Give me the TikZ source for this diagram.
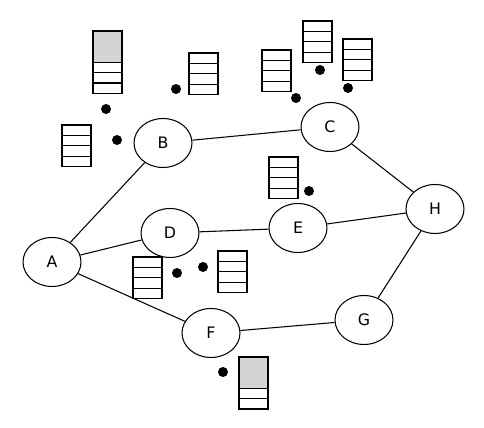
\documentclass[tikz,border=0pt]{standalone}
\usepackage{fontspec}
\setsansfont{DejaVu Sans}
\usepackage{xcolor}
\usepackage{tikz}
\usetikzlibrary{shapes.geometric}

% a stack of cells: x left, y top, plain cells, grey cells on top
\newcommand{\cellstack}[4]{%
  \ifnum#4>0
    \draw[fill=black!17] (#1,#2) rectangle ++(29,#4*10.4);
  \fi
  \foreach \k in {1,...,#3}
    \draw (#1,#2+#4*10.4+\k*10.4-10.4) rectangle ++(29,10.4);
}

\begin{document}
\begin{tikzpicture}[x=0.02cm,y=-0.02cm,line width=0.6pt,
    router/.style={draw,ellipse,minimum width=1.16cm,minimum height=0.98cm,
      inner sep=0pt,font=\sffamily\small},
    dot/.style={circle,fill,inner sep=0pt,minimum size=0.2cm}]
		\useasboundingbox (0,0) rectangle (484,428);
		
		% Routers
		\node[router] (A) at (52,262) {A};
		\node[router] (B) at (163,143) {B};
		\node[router] (C) at (330,127) {C};
		\node[router] (D) at (170,233) {D};
		\node[router] (E) at (298,228) {E};
		\node[router] (H) at (435,209) {H};
		\node[router] (G) at (364,320) {G};
		\node[router] (F) at (211,333) {F};
		
		% Links
		\draw (A) -- (B);
		\draw (A) -- (D);
		\draw (A) -- (F);
		\draw (B) -- (C);
		\draw (D) -- (E);
		\draw (E) -- (H);
		\draw (C) -- (H);
		\draw (F) -- (G);
		\draw (G) -- (H);
		
		% Packets
		\node[dot] (p1) at (176,89) {};
		\node[dot] (p2) at (106,109) {};
		\node[dot] (p3) at (117,140) {};
		\node[dot] (p4) at (320,70) {};
		\node[dot] (p5) at (348,88) {};
		\node[dot] (p6) at (296,98) {};
		\node[dot] (p7) at (309,191) {};
		\node[dot] (p8) at (177,273) {};
		\node[dot] (p9) at (203,267) {};
		\node[dot] (p10) at (223,372) {};
		
		% Queues
		\cellstack{93}{31}{3}{3}
		\cellstack{189}{53}{4}{0}
		\cellstack{62}{125}{4}{0}
		\cellstack{262}{50}{4}{0}
		\cellstack{303}{21}{4}{0}
		\cellstack{343}{39}{4}{0}
		\cellstack{269}{157}{4}{0}
		\cellstack{133}{257}{4}{0}
		\cellstack{218}{251}{4}{0}
		\cellstack{239}{357}{2}{3}
	\end{tikzpicture}
\end{document}
